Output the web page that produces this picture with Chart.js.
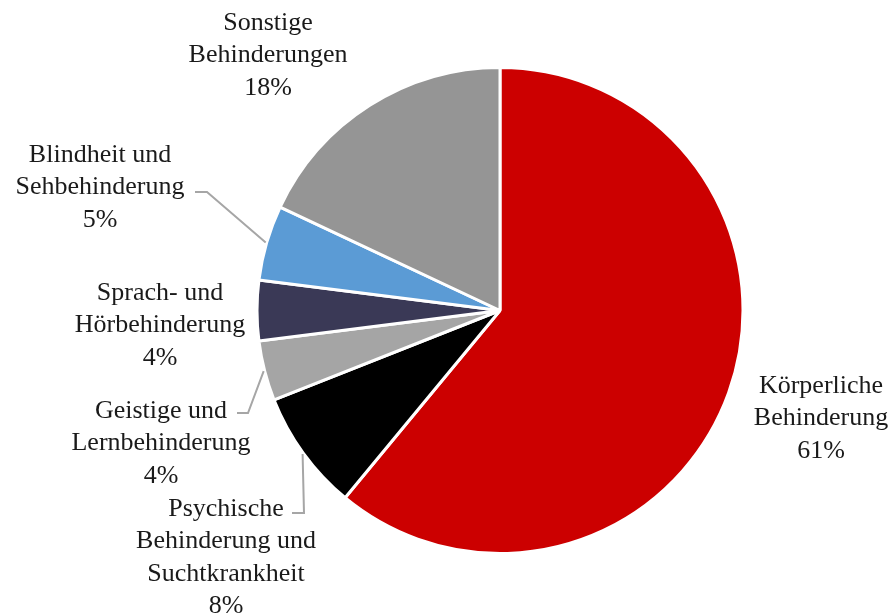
<!DOCTYPE html>
<html>
<head>
<meta charset="utf-8">
<script src="https://cdn.jsdelivr.net/npm/chart.js@4.4.1/dist/chart.umd.min.js"></script>
<style>
  html, body { margin: 0; padding: 0; background: #ffffff; }
  #wrap { width: 894px; height: 616px; position: relative; }
</style>
</head>
<body>
<div id="wrap"><canvas id="c" width="894" height="616"></canvas></div>
<script>
// Categories (clockwise from 12 o'clock) and their shares in percent
const categories = [
  ['Körperliche', 'Behinderung'],
  ['Psychische', 'Behinderung und', 'Suchtkrankheit'],
  ['Geistige und', 'Lernbehinderung'],
  ['Sprach- und', 'Hörbehinderung'],
  ['Blindheit und', 'Sehbehinderung'],
  ['Sonstige', 'Behinderungen']
];
const shares = [61, 8, 4, 4, 5, 18];
const sliceColors = ['#CC0000', '#000000', '#A5A5A5', '#3A3956', '#5B9BD5', '#959595'];

// Where each label block sits (centre x, baseline of first line) and
// the optional elbow of its leader line (null = no leader)
const labelLayout = [
  { x: 821, y: 393, leader: null },
  { x: 226, y: 516, leader: { ex: 304, ey: 513, tx: 292 } },
  { x: 161, y: 418, leader: { ex: 248, ey: 413, tx: 237 } },
  { x: 160, y: 300, leader: null },
  { x: 100, y: 162, leader: { ex: 207, ey: 192, tx: 195 } },
  { x: 268, y: 30,  leader: null }
];
const lineHeight = 32.3;

const labelPlugin = {
  id: 'sliceLabels',
  afterDatasetsDraw(chart) {
    const ctx = chart.ctx;
    const meta = chart.getDatasetMeta(0);
    ctx.save();
    meta.data.forEach((arc, i) => {
      const lay = labelLayout[i];
      const { x, y, startAngle, endAngle, outerRadius } = arc.getProps(['x', 'y', 'startAngle', 'endAngle', 'outerRadius'], true);
      if (lay.leader) {
        const mid = (startAngle + endAngle) / 2;
        const px = x + Math.cos(mid) * (outerRadius + 1);
        const py = y + Math.sin(mid) * (outerRadius + 1);
        ctx.strokeStyle = '#A6A6A6';
        ctx.lineWidth = 2;
        ctx.beginPath();
        ctx.moveTo(px, py);
        ctx.lineTo(lay.leader.ex, lay.leader.ey);
        ctx.lineTo(lay.leader.tx, lay.leader.ey);
        ctx.stroke();
      }
      const lines = categories[i].concat([shares[i] + '%']);
      ctx.fillStyle = '#1a1a1a';
      ctx.font = '26px "Liberation Serif", "Times New Roman", serif';
      ctx.textAlign = 'center';
      ctx.textBaseline = 'alphabetic';
      lines.forEach((t, k) => ctx.fillText(t, lay.x, lay.y + k * lineHeight));
    });
    ctx.restore();
  }
};

new Chart(document.getElementById('c'), {
  type: 'pie',
  data: {
    labels: categories.map(c => c.join(' ')),
    datasets: [{
      data: shares,
      backgroundColor: sliceColors,
      borderColor: '#ffffff',
      borderWidth: 3
    }]
  },
  options: {
    responsive: false,
    animation: false,
    layout: { padding: { left: 250, right: 144, top: 66, bottom: 61 } },
    plugins: {
      legend: { display: false },
      tooltip: { enabled: false }
    }
  },
  plugins: [labelPlugin]
});
</script>
</body>
</html>
